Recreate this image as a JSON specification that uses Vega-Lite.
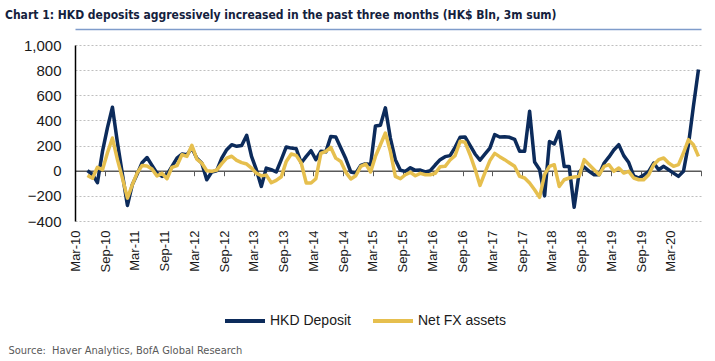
{
  "$schema": "https://vega.github.io/schema/vega-lite/v6.json",
  "width": 626,
  "height": 176,
  "autosize": "none",
  "padding": {"left": 75, "top": 45, "right": 14, "bottom": 140},
  "background": "white",
  "config": {"view": {"stroke": null}},
  "title": {
    "text": "Chart 1: HKD deposits aggressively increased in the past three months (HK$ Bln, 3m sum)",
    "anchor": "start",
    "frame": "group",
    "dx": -70,
    "offset": -2,
    "baseline": "alphabetic",
    "font": "DejaVu Sans Condensed, Liberation Sans, sans-serif",
    "fontSize": 12,
    "fontWeight": "bold",
    "color": "#14213D"
  },
  "data": {
    "values": [
      {"date": "2010-05", "HKD Deposit": 0, "Net FX assets": -37},
      {"date": "2010-06", "HKD Deposit": -30, "Net FX assets": -60},
      {"date": "2010-07", "HKD Deposit": -95, "Net FX assets": 27},
      {"date": "2010-08", "HKD Deposit": 154, "Net FX assets": 8},
      {"date": "2010-09", "HKD Deposit": 343, "Net FX assets": 143},
      {"date": "2010-10", "HKD Deposit": 505, "Net FX assets": 260},
      {"date": "2010-11", "HKD Deposit": 224, "Net FX assets": 88},
      {"date": "2010-12", "HKD Deposit": -27, "Net FX assets": -58},
      {"date": "2011-01", "HKD Deposit": -276, "Net FX assets": -218},
      {"date": "2011-02", "HKD Deposit": -112, "Net FX assets": -112},
      {"date": "2011-03", "HKD Deposit": -29, "Net FX assets": -19},
      {"date": "2011-04", "HKD Deposit": 64, "Net FX assets": 42},
      {"date": "2011-05", "HKD Deposit": 105, "Net FX assets": 37},
      {"date": "2011-06", "HKD Deposit": 42, "Net FX assets": 13},
      {"date": "2011-07", "HKD Deposit": -19, "Net FX assets": -42},
      {"date": "2011-08", "HKD Deposit": -45, "Net FX assets": -21},
      {"date": "2011-09", "HKD Deposit": -32, "Net FX assets": -64},
      {"date": "2011-10", "HKD Deposit": 35, "Net FX assets": 27},
      {"date": "2011-11", "HKD Deposit": 100, "Net FX assets": 40},
      {"date": "2011-12", "HKD Deposit": 133, "Net FX assets": 127},
      {"date": "2012-01", "HKD Deposit": 127, "Net FX assets": 114},
      {"date": "2012-02", "HKD Deposit": 180, "Net FX assets": 202},
      {"date": "2012-03", "HKD Deposit": 100, "Net FX assets": 93},
      {"date": "2012-04", "HKD Deposit": 61, "Net FX assets": 61},
      {"date": "2012-05", "HKD Deposit": -72, "Net FX assets": 0},
      {"date": "2012-06", "HKD Deposit": -10, "Net FX assets": -5},
      {"date": "2012-07", "HKD Deposit": 0, "Net FX assets": 5},
      {"date": "2012-08", "HKD Deposit": 100, "Net FX assets": 56},
      {"date": "2012-09", "HKD Deposit": 167, "Net FX assets": 100},
      {"date": "2012-10", "HKD Deposit": 207, "Net FX assets": 115},
      {"date": "2012-11", "HKD Deposit": 194, "Net FX assets": 82},
      {"date": "2012-12", "HKD Deposit": 200, "Net FX assets": 64},
      {"date": "2013-01", "HKD Deposit": 281, "Net FX assets": 53},
      {"date": "2013-02", "HKD Deposit": 114, "Net FX assets": 21},
      {"date": "2013-03", "HKD Deposit": 8, "Net FX assets": -19},
      {"date": "2013-04", "HKD Deposit": -125, "Net FX assets": -40},
      {"date": "2013-05", "HKD Deposit": 21, "Net FX assets": -35},
      {"date": "2013-06", "HKD Deposit": 8, "Net FX assets": -96},
      {"date": "2013-07", "HKD Deposit": -10, "Net FX assets": -77},
      {"date": "2013-08", "HKD Deposit": 88, "Net FX assets": -48},
      {"date": "2013-09", "HKD Deposit": 189, "Net FX assets": 74},
      {"date": "2013-10", "HKD Deposit": 180, "Net FX assets": 133},
      {"date": "2013-11", "HKD Deposit": 175, "Net FX assets": 122},
      {"date": "2013-12", "HKD Deposit": 61, "Net FX assets": 61},
      {"date": "2014-01", "HKD Deposit": 114, "Net FX assets": -98},
      {"date": "2014-02", "HKD Deposit": 159, "Net FX assets": -98},
      {"date": "2014-03", "HKD Deposit": 88, "Net FX assets": -64},
      {"date": "2014-04", "HKD Deposit": 154, "Net FX assets": 138},
      {"date": "2014-05", "HKD Deposit": 150, "Net FX assets": 154},
      {"date": "2014-06", "HKD Deposit": 273, "Net FX assets": 185},
      {"date": "2014-07", "HKD Deposit": 268, "Net FX assets": 100},
      {"date": "2014-08", "HKD Deposit": 180, "Net FX assets": 74},
      {"date": "2014-09", "HKD Deposit": 95, "Net FX assets": -13},
      {"date": "2014-10", "HKD Deposit": -10, "Net FX assets": -66},
      {"date": "2014-11", "HKD Deposit": -19, "Net FX assets": -40},
      {"date": "2014-12", "HKD Deposit": 42, "Net FX assets": 35},
      {"date": "2015-01", "HKD Deposit": 56, "Net FX assets": 53},
      {"date": "2015-02", "HKD Deposit": 48, "Net FX assets": -10},
      {"date": "2015-03", "HKD Deposit": 355, "Net FX assets": 114},
      {"date": "2015-04", "HKD Deposit": 362, "Net FX assets": 207},
      {"date": "2015-05", "HKD Deposit": 500, "Net FX assets": 300},
      {"date": "2015-06", "HKD Deposit": 260, "Net FX assets": 154},
      {"date": "2015-07", "HKD Deposit": 88, "Net FX assets": -45},
      {"date": "2015-08", "HKD Deposit": 3, "Net FX assets": -64},
      {"date": "2015-09", "HKD Deposit": -5, "Net FX assets": -32},
      {"date": "2015-10", "HKD Deposit": 24, "Net FX assets": -13},
      {"date": "2015-11", "HKD Deposit": 3, "Net FX assets": -40},
      {"date": "2015-12", "HKD Deposit": 5, "Net FX assets": -21},
      {"date": "2016-01", "HKD Deposit": -10, "Net FX assets": -32},
      {"date": "2016-02", "HKD Deposit": 0, "Net FX assets": -32},
      {"date": "2016-03", "HKD Deposit": 45, "Net FX assets": -21},
      {"date": "2016-04", "HKD Deposit": 88, "Net FX assets": 32},
      {"date": "2016-05", "HKD Deposit": 112, "Net FX assets": 35},
      {"date": "2016-06", "HKD Deposit": 120, "Net FX assets": 85},
      {"date": "2016-07", "HKD Deposit": 186, "Net FX assets": 120},
      {"date": "2016-08", "HKD Deposit": 266, "Net FX assets": 234},
      {"date": "2016-09", "HKD Deposit": 268, "Net FX assets": 226},
      {"date": "2016-10", "HKD Deposit": 202, "Net FX assets": 127},
      {"date": "2016-11", "HKD Deposit": 133, "Net FX assets": 13},
      {"date": "2016-12", "HKD Deposit": 85, "Net FX assets": -117},
      {"date": "2017-01", "HKD Deposit": 133, "Net FX assets": -13},
      {"date": "2017-02", "HKD Deposit": 180, "Net FX assets": 80},
      {"date": "2017-03", "HKD Deposit": 287, "Net FX assets": 138},
      {"date": "2017-04", "HKD Deposit": 268, "Net FX assets": 112},
      {"date": "2017-05", "HKD Deposit": 270, "Net FX assets": 88},
      {"date": "2017-06", "HKD Deposit": 266, "Net FX assets": 61},
      {"date": "2017-07", "HKD Deposit": 250, "Net FX assets": 35},
      {"date": "2017-08", "HKD Deposit": 154, "Net FX assets": -45},
      {"date": "2017-09", "HKD Deposit": 154, "Net FX assets": -58},
      {"date": "2017-10", "HKD Deposit": 473, "Net FX assets": -98},
      {"date": "2017-11", "HKD Deposit": 70, "Net FX assets": -151},
      {"date": "2017-12", "HKD Deposit": 10, "Net FX assets": -212},
      {"date": "2018-01", "HKD Deposit": -200, "Net FX assets": -30},
      {"date": "2018-02", "HKD Deposit": 232, "Net FX assets": 35},
      {"date": "2018-03", "HKD Deposit": 213, "Net FX assets": 48},
      {"date": "2018-04", "HKD Deposit": 312, "Net FX assets": -125},
      {"date": "2018-05", "HKD Deposit": 33, "Net FX assets": -72},
      {"date": "2018-06", "HKD Deposit": 33, "Net FX assets": -58},
      {"date": "2018-07", "HKD Deposit": -290, "Net FX assets": -50},
      {"date": "2018-08", "HKD Deposit": -12, "Net FX assets": -45},
      {"date": "2018-09", "HKD Deposit": 30, "Net FX assets": 88},
      {"date": "2018-10", "HKD Deposit": -5, "Net FX assets": 48},
      {"date": "2018-11", "HKD Deposit": -32, "Net FX assets": 8},
      {"date": "2018-12", "HKD Deposit": -32, "Net FX assets": -32},
      {"date": "2019-01", "HKD Deposit": 61, "Net FX assets": 35},
      {"date": "2019-02", "HKD Deposit": 110, "Net FX assets": 48},
      {"date": "2019-03", "HKD Deposit": 165, "Net FX assets": -5},
      {"date": "2019-04", "HKD Deposit": 207, "Net FX assets": 21},
      {"date": "2019-05", "HKD Deposit": 120, "Net FX assets": -19},
      {"date": "2019-06", "HKD Deposit": 65, "Net FX assets": -5},
      {"date": "2019-07", "HKD Deposit": -40, "Net FX assets": -58},
      {"date": "2019-08", "HKD Deposit": -58, "Net FX assets": -72},
      {"date": "2019-09", "HKD Deposit": -35, "Net FX assets": -72},
      {"date": "2019-10", "HKD Deposit": -5, "Net FX assets": -32},
      {"date": "2019-11", "HKD Deposit": 61, "Net FX assets": 48},
      {"date": "2019-12", "HKD Deposit": 8, "Net FX assets": 88},
      {"date": "2020-01", "HKD Deposit": 35, "Net FX assets": 101},
      {"date": "2020-02", "HKD Deposit": 8, "Net FX assets": 61},
      {"date": "2020-03", "HKD Deposit": -19, "Net FX assets": 35},
      {"date": "2020-04", "HKD Deposit": -45, "Net FX assets": 48},
      {"date": "2020-05", "HKD Deposit": -5, "Net FX assets": 141},
      {"date": "2020-06", "HKD Deposit": 207, "Net FX assets": 247},
      {"date": "2020-07", "HKD Deposit": 513, "Net FX assets": 207},
      {"date": "2020-08", "HKD Deposit": 806, "Net FX assets": 114}
    ]
  },
  "transform": [
    {"fold": ["HKD Deposit", "Net FX assets"], "as": ["series", "value"]}
  ],
  "layer": [
    {
      "mark": {"type": "line", "strokeWidth": 3.5, "strokeJoin": "round", "strokeCap": "butt"},
      "encoding": {
        "x": {
          "field": "date",
          "timeUnit": "utcyearmonth",
          "type": "temporal",
          "bandPosition": 0.5,
          "scale": {"domain": [{"year": 2010, "month": 3, "date": 1, "utc": true}, {"year": 2020, "month": 9, "date": 1, "utc": true}]},
          "axis": {
            "orient": "bottom",
            "values": [
              {"year": 2010, "month": 3, "date": 1, "utc": true}, {"year": 2010, "month": 9, "date": 1, "utc": true},
              {"year": 2011, "month": 3, "date": 1, "utc": true}, {"year": 2011, "month": 9, "date": 1, "utc": true},
              {"year": 2012, "month": 3, "date": 1, "utc": true}, {"year": 2012, "month": 9, "date": 1, "utc": true},
              {"year": 2013, "month": 3, "date": 1, "utc": true}, {"year": 2013, "month": 9, "date": 1, "utc": true},
              {"year": 2014, "month": 3, "date": 1, "utc": true}, {"year": 2014, "month": 9, "date": 1, "utc": true},
              {"year": 2015, "month": 3, "date": 1, "utc": true}, {"year": 2015, "month": 9, "date": 1, "utc": true},
              {"year": 2016, "month": 3, "date": 1, "utc": true}, {"year": 2016, "month": 9, "date": 1, "utc": true},
              {"year": 2017, "month": 3, "date": 1, "utc": true}, {"year": 2017, "month": 9, "date": 1, "utc": true},
              {"year": 2018, "month": 3, "date": 1, "utc": true}, {"year": 2018, "month": 9, "date": 1, "utc": true},
              {"year": 2019, "month": 3, "date": 1, "utc": true}, {"year": 2019, "month": 9, "date": 1, "utc": true},
              {"year": 2020, "month": 3, "date": 1, "utc": true}
            ],
            "labelExpr": "utcFormat(datum.value, '%b-%y')",
            "labelAngle": -90,
            "labelFont": "Liberation Sans",
            "labelFontSize": 13,
            "labelColor": "#1a1a1a",
            "labelPadding": 9,
            "labelOverlap": false,
            "ticks": false,
            "domain": false,
            "grid": false,
            "title": "Source:\u00a0 Haver Analytics, BofA Global Research",
            "titleX": -67,
            "titleY": 132,
            "titleAlign": "left",
            "titleAngle": 0,
            "titleBaseline": "alphabetic",
            "titleFont": "DejaVu Sans Condensed, Liberation Sans, sans-serif",
            "titleFontSize": 11,
            "titleFontWeight": "normal",
            "titleColor": "#595959"
          }
        },
        "y": {
          "field": "value",
          "type": "quantitative",
          "scale": {"domain": [-400, 1000], "nice": false, "zero": false},
          "axis": {
            "values": [-400, -200, 0, 200, 400, 600, 800, 1000],
            "format": ",.0f",
            "labelOverlap": false,
            "title": null,
            "ticks": false,
            "domain": true,
            "domainColor": "#000000",
            "domainWidth": 1.5,
            "grid": true,
            "gridColor": "#BFBFBF",
            "gridDash": [2, 2],
            "gridWidth": 1,
            "labelFont": "Liberation Sans",
            "labelFontSize": 15,
            "labelColor": "#1a1a1a",
            "labelPadding": 14
          }
        },
        "color": {
          "field": "series",
          "type": "nominal",
          "scale": {"domain": ["HKD Deposit", "Net FX assets"], "range": ["#0C2B5B", "#E6BF4E"]},
          "legend": {
            "orient": "none",
            "legendX": 148,
            "legendY": 254,
            "direction": "horizontal",
            "title": null,
            "symbolType": "stroke",
            "symbolSize": 1600,
            "symbolStrokeWidth": 4,
            "labelFont": "Liberation Sans",
            "labelFontSize": 14,
            "labelColor": "#1a1a1a",
            "labelOffset": 3,
            "columnPadding": 14
          }
        }
      }
    },
    {
      "mark": {"type": "line", "opacity": 0},
      "encoding": {
        "x": {
          "field": "date",
          "timeUnit": "utcyearmonth",
          "type": "temporal",
          "bandPosition": 0.5,
          "axis": {
            "orient": "bottom",
            "offset": -50.3,
            "values": [
              {"year": 2010, "month": 3, "date": 1, "utc": true}, {"year": 2010, "month": 9, "date": 1, "utc": true},
              {"year": 2011, "month": 3, "date": 1, "utc": true}, {"year": 2011, "month": 9, "date": 1, "utc": true},
              {"year": 2012, "month": 3, "date": 1, "utc": true}, {"year": 2012, "month": 9, "date": 1, "utc": true},
              {"year": 2013, "month": 3, "date": 1, "utc": true}, {"year": 2013, "month": 9, "date": 1, "utc": true},
              {"year": 2014, "month": 3, "date": 1, "utc": true}, {"year": 2014, "month": 9, "date": 1, "utc": true},
              {"year": 2015, "month": 3, "date": 1, "utc": true}, {"year": 2015, "month": 9, "date": 1, "utc": true},
              {"year": 2016, "month": 3, "date": 1, "utc": true}, {"year": 2016, "month": 9, "date": 1, "utc": true},
              {"year": 2017, "month": 3, "date": 1, "utc": true}, {"year": 2017, "month": 9, "date": 1, "utc": true},
              {"year": 2018, "month": 3, "date": 1, "utc": true}, {"year": 2018, "month": 9, "date": 1, "utc": true},
              {"year": 2019, "month": 3, "date": 1, "utc": true}, {"year": 2019, "month": 9, "date": 1, "utc": true},
              {"year": 2020, "month": 3, "date": 1, "utc": true}, {"year": 2020, "month": 9, "date": 1, "utc": true}
            ],
            "labels": false,
            "ticks": true,
            "tickSize": 5,
            "tickColor": "#595959",
            "tickWidth": 1,
            "domain": true,
            "domainColor": "#595959",
            "domainWidth": 1.5,
            "grid": false,
            "title": null
          }
        },
        "y": {
          "datum": 0,
          "type": "quantitative",
          "axis": {
            "values": [-400, -200, 0, 200, 400, 600, 800, 1000],
            "format": ",.0f",
            "labelOverlap": false,
            "title": null,
            "ticks": false,
            "domain": true,
            "domainColor": "#000000",
            "domainWidth": 1.5,
            "grid": true,
            "gridColor": "#BFBFBF",
            "gridDash": [2, 2],
            "gridWidth": 1,
            "labelFont": "Liberation Sans",
            "labelFontSize": 15,
            "labelColor": "#1a1a1a",
            "labelPadding": 14
          }
        }
      }
    },
    {
      "mark": {"type": "line", "opacity": 0},
      "encoding": {
        "x": {
          "field": "date",
          "timeUnit": "utcyearmonth",
          "type": "temporal",
          "bandPosition": 0.5,
          "axis": {
            "orient": "top",
            "offset": 16,
            "labels": false,
            "ticks": false,
            "domain": true,
            "domainColor": "#7F9CCB",
            "domainWidth": 1.5,
            "grid": false,
            "title": null
          }
        },
        "y": {
          "datum": 0,
          "type": "quantitative",
          "axis": {
            "values": [-400, -200, 0, 200, 400, 600, 800, 1000],
            "format": ",.0f",
            "labelOverlap": false,
            "title": null,
            "ticks": false,
            "domain": true,
            "domainColor": "#000000",
            "domainWidth": 1.5,
            "grid": true,
            "gridColor": "#BFBFBF",
            "gridDash": [2, 2],
            "gridWidth": 1,
            "labelFont": "Liberation Sans",
            "labelFontSize": 15,
            "labelColor": "#1a1a1a",
            "labelPadding": 14
          }
        }
      }
    }
  ],
  "resolve": {"axis": {"x": "independent"}}
}
